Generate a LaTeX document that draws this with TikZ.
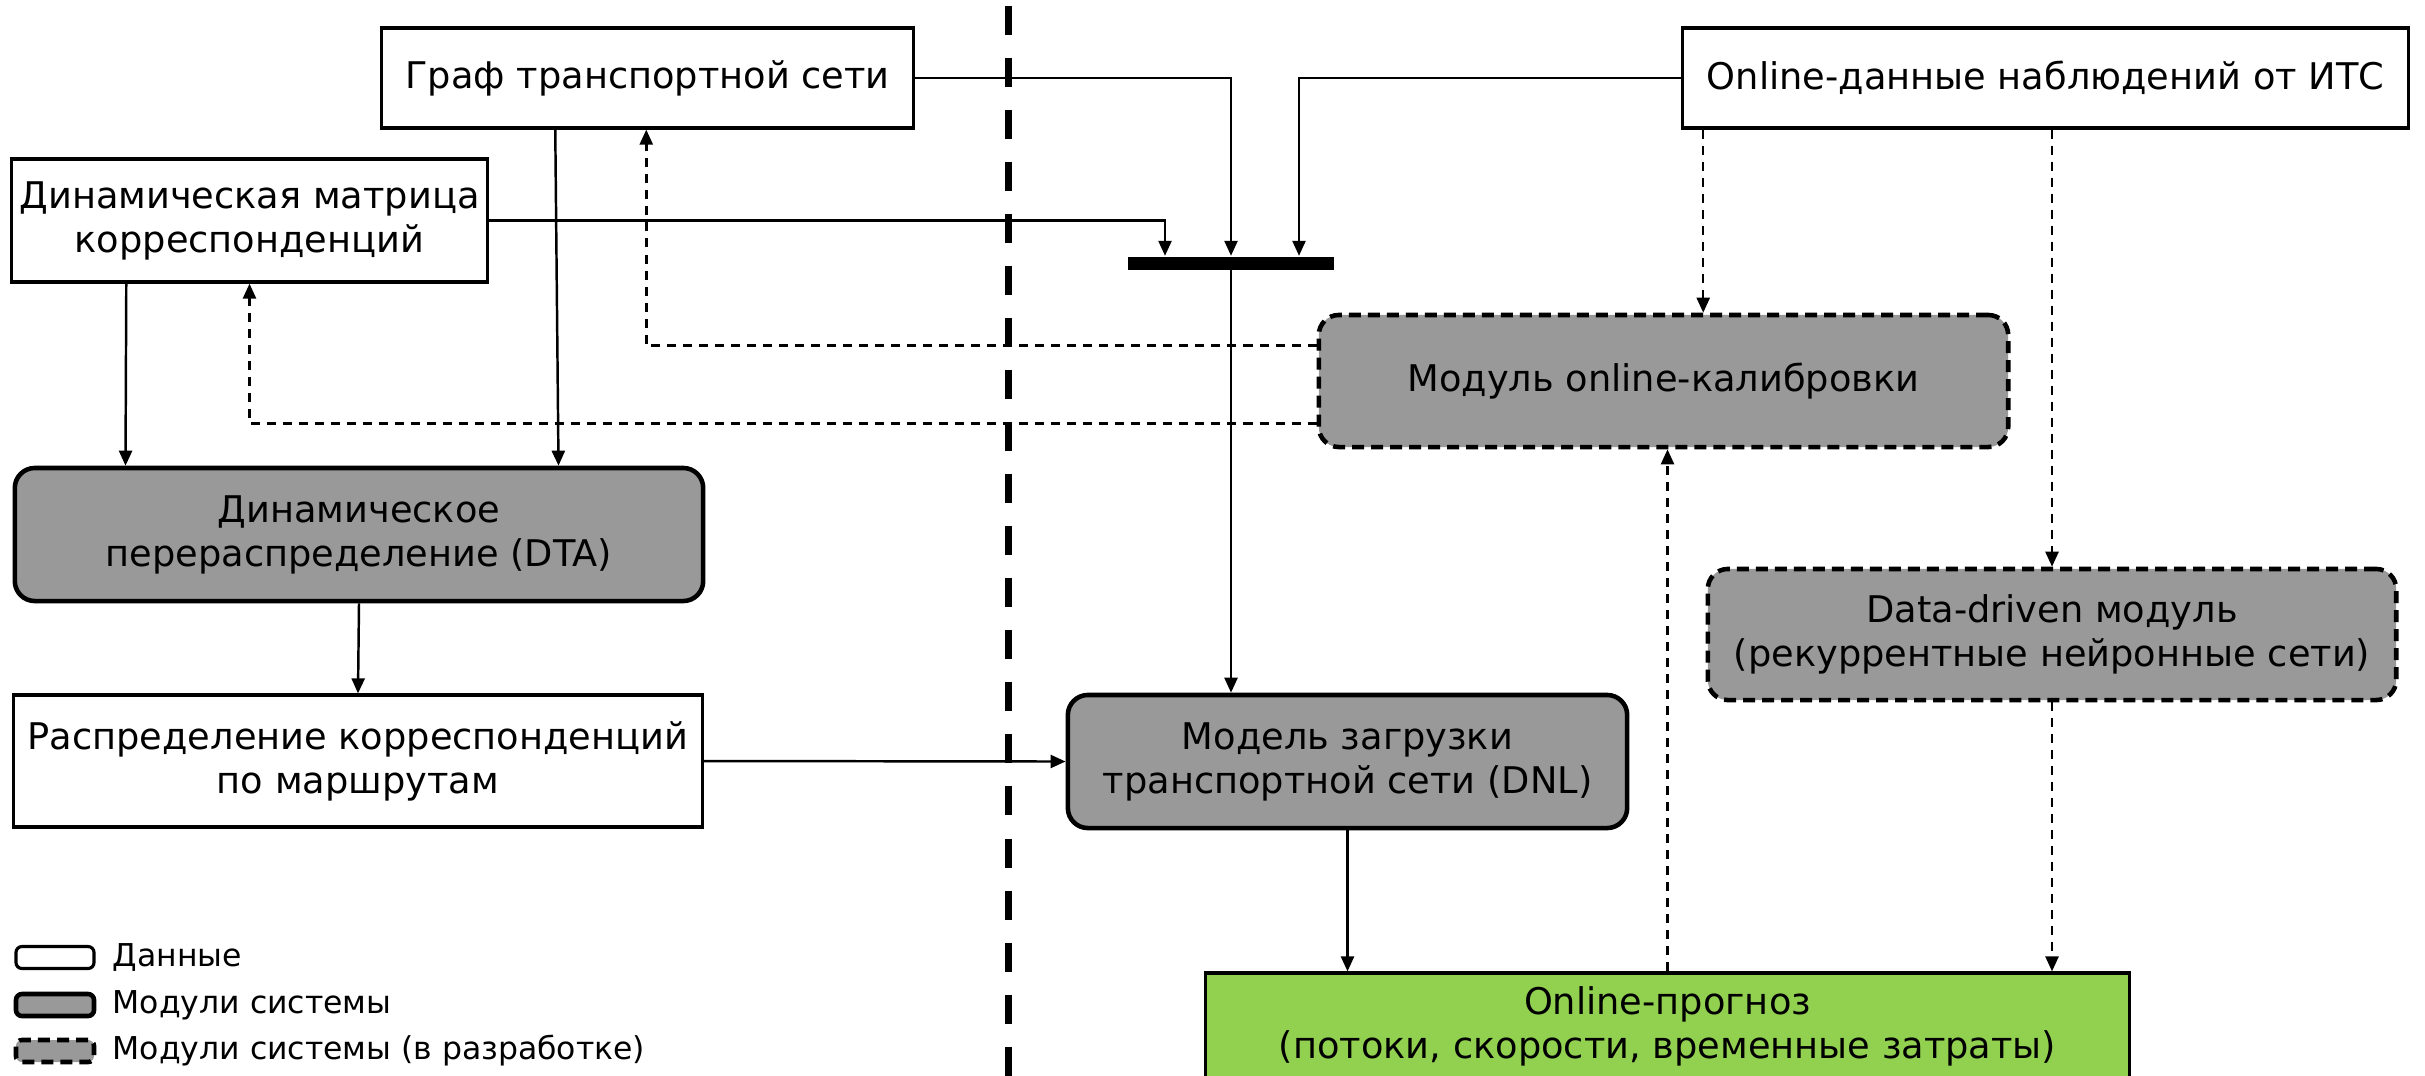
\documentclass[tikz,border=0pt]{standalone}
\usepackage{fontspec}
\setmainfont{DejaVu Sans}
\usepackage{tikz}
\usetikzlibrary{arrows,arrows.meta,calc,positioning}
\definecolor{modgray}{HTML}{999999}
\definecolor{fcgreen}{HTML}{92D050}
\def\txtfont{\fontsize{10.45pt}{12.5pt}\selectfont}

\begin{document}
\begin{tikzpicture}[x=0.01cm, y=-0.01cm, >={Triangle[length=1.5mm,width=1.3mm]}]
            \tikzstyle{data}=[draw, line width=0.9pt, fill=white, align=center, inner sep=0pt, font=\txtfont]
            \tikzstyle{module}=[draw, line width=1.3pt, fill=modgray, rounded corners=2mm, align=center, inner sep=0pt, font=\txtfont]
            \tikzstyle{devmodule}=[module, dash pattern=on 1.2mm off 0.7mm]
            \tikzstyle{arr}=[->, line width=0.7pt]
            \tikzstyle{darr}=[->, line width=0.7pt, dash pattern=on 0.9mm off 0.7mm]
            \tikzstyle{legtext}=[anchor=west, inner sep=0pt, font=\fontsize{8.95pt}{10pt}\selectfont]

            \useasboundingbox (0,0) rectangle (2425,1075);

            % Data boxes
            \node[data, minimum width=5.31cm, minimum height=1cm] (graf) at (647.5,78) {Граф транспортной сети};
            \node[data, minimum width=7.25cm, minimum height=1cm] (itsdata) at (2045.5,78) {Online-данные наблюдений от ИТС};
            \node[data, minimum width=4.75cm, minimum height=1.23cm] (odm) at (249.5,220.5) {Динамическая матрица\\корреспонденций};
            \node[data, minimum width=6.88cm, minimum height=1.32cm] (routes) at (358,761) {Распределение корреспонденций\\по маршрутам};

            % Modules
            \node[module, minimum width=6.88cm, minimum height=1.33cm] (dta) at (359,534.5) {Динамическое\\перераспределение (DTA)};
            \node[module, minimum width=5.59cm, minimum height=1.33cm] (dnl) at (1347.5,761.5) {Модель загрузки\\транспортной сети (DNL)};
            \node[devmodule, minimum width=6.89cm, minimum height=1.32cm] (calib) at (1663.5,381) {Модуль online-калибровки};
            \node[devmodule, minimum width=6.88cm, minimum height=1.31cm] (dd) at (2052,634.5) {Data-driven модуль\\(рекуррентные нейронные сети)};
            \node[draw, line width=0.9pt, fill=fcgreen, align=center, inner sep=0pt, font=\txtfont,
                  minimum width=9.23cm, minimum height=1.07cm] (forecast) at (1667.5,1026.5) {Online-прогноз\\(потоки, скорости, временные затраты)};

            % Join bar
            \node[fill=black, inner sep=0pt, minimum width=2.06cm, minimum height=0.13cm] (bar) at (1231,263) {};

            % Divider between the two parts
            \coordinate (div-top) at (1008,6);
            \coordinate (div-bot) at (1008,1080);
            \draw[line width=2pt, dash pattern=on 2.9mm off 2.3mm] (div-top) -- (div-bot);

            % Solid connectors
            \draw[arr] (graf.east) -| (bar.north);
            \draw[arr] (itsdata.west) -| ($(bar.north)+(68,0)$);
            \draw[arr] (odm.east) -| ($(bar.north)+(-66,0)$);
            \draw[arr] (bar.south) -- (bar.south |- dnl.north);
            \draw[arr] ($(graf.south west)+(175,0)$) -- ($(dta.north west)+(546,0)$);
            \draw[arr] ($(odm.south west)+(116,0)$) -- ($(dta.north west)+(113,0)$);
            \draw[arr] (dta.south) -- (routes.north);
            \draw[arr] (routes.east) -- (dnl.west);
            \draw[arr] (dnl.south) -- (dnl.south |- forecast.north);

            % Dashed connectors
            \draw[darr] ($(calib.north west)+(0,33)$) -| ($(graf.south west)+(266,0)$);
            \draw[darr] ($(calib.south west)+(0,-26)$) -| (odm.south);
            \draw[darr] ($(itsdata.south west)+(22,0)$) coordinate (its-a) -- (its-a |- calib.north);
            \draw[darr] (dd.north |- itsdata.south) -- (dd.north);
            \draw[darr] (dd.south) -- (dd.south |- forecast.north);
            \draw[darr] (forecast.north) -- (forecast.north |- calib.south);

            % Legend
            \foreach \kind/\y/\txt in {data/957.5/Данные, module/1005/Модули системы, devmodule/1051/Модули системы (в разработке)} {
                \node[\kind, rounded corners=0.6mm, minimum width=0.78cm, minimum height=0.22cm] (leg-\y) at (55,\y) {};
                \node[legtext] (legt-\y) at (112,\y) {\txt};
            }

        \end{tikzpicture}
\end{document}
